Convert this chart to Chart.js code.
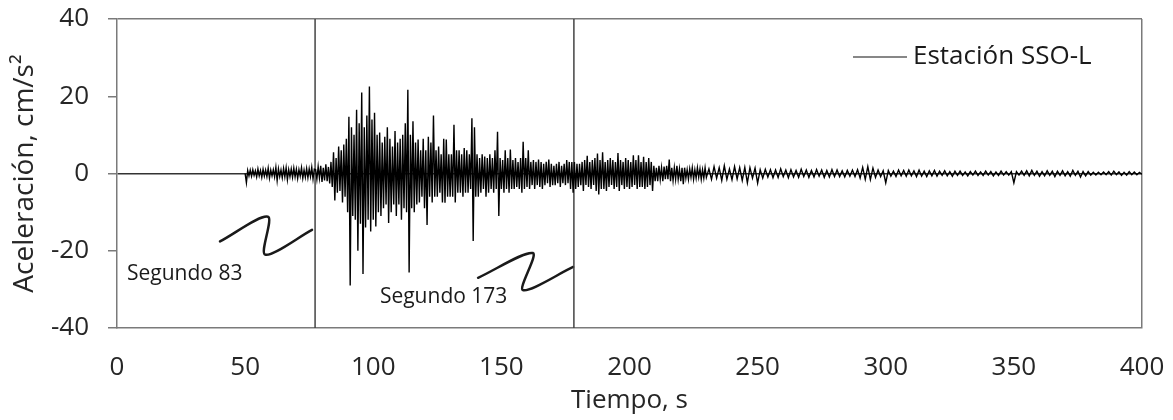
<!DOCTYPE html>
<html>
<head>
<meta charset="utf-8">
<script src="https://cdn.jsdelivr.net/npm/chart.js@4.4.0/dist/chart.umd.min.js"></script>
<style>
  body { margin: 0; background: #fff; }
  #wrap { width: 1173px; height: 420px; }
</style>
</head>
<body>
<div id="wrap"><canvas id="myChart"></canvas></div>
<script>
// acceleration record, cm/s2 in pieces
// each piece: [start s, end s] and samples evenly spread in between
const preSpan = [50, 77]
const accPre = [0, -2.4, 0.8, -0.6, 0.9, -0.7, 1.0, -0.5, 0.7, -0.9, 1.2, -0.6, 0.8, -1.0, 1.1, -0.7,
  0.9, -0.8, 1.4, -1.2, 0.9, -0.6, 1.0, -0.9, 1.6, -1.8, 1.2, -0.8, 0.9, -1.1, 1.3, -0.9, 1.5, -1.6,
  1.0, -0.8, 1.2, -1.0, 1.4, -0.9, 1.1, -1.3, 1.0, -0.7, 1.5, -1.2, 0.9, -1.0, 1.3, -1.1, 1.2, -0.8,
  1.6, -1.4, 1.1]

const strongSpan = [77.5, 130]
const accStrong = [1.0, -1.5, 1.8, -1.2, 2.0, -2.2, 1.5, -1.8, 2.4, -2.0, 1.7, -2.6, 3.0, -3.5,
  5.5, -7.0, 4.0, -5.0, 7.0, -4.5, 6.0, -7.5, 7.5, -6.0, 9.0, -10.0, 14.7, -29.0, 12.0, -11.0,
  10.0, -12.0, 16.5, -20.0, 13.0, -13.0, 21.0, -26.0, 12.0, -14.0, 15.0, -12.0, 22.5, -15.0,
  14.0, -12.0, 15.7, -13.7, 10.0, -10.0, 10.6, -11.0, 8.0, -9.0, 9.5, -8.0, 12.0, -12.8, 9.0,
  -10.0, 7.0, -8.0, 11.0, -11.0, 8.0, -8.0, 9.0, -12.0, 10.0, -9.0, 13.0, -10.0, 21.7, -25.6,
  10.0, -9.0, 13.5, -10.0, 8.0, -8.0, 8.8, -7.5, 6.0, -6.0, 9.0, -9.0, 6.0, -13.3, 9.5, -6.0,
  8.0, -7.5, 15.0, -6.0, 6.0, -6.0, 7.0, -5.0, 5.0, -7.5, 9.0, -7.6, 8.8, -6.0, 5.0, -6.0]

const middleSpan = [130.5, 180]
const accMiddle = [5.0, -6.0, 12.6, -7.5, 6.0, -5.0, 6.0, -5.0, 5.0, -6.0, 6.6, -5.0, 6.0, -5.0,
  5.0, -4.0, 14.3, -17.5, 12.0, -6.0, 5.0, -6.0, 4.0, -5.0, 5.0, -4.0, 4.4, -6.0, 4.0, -5.0,
  5.0, -4.0, 4.0, -5.0, 6.0, -4.0, 10.8, -11.0, 4.0, -4.0, 3.5, -5.0, 6.0, -4.0, 4.0, -5.0,
  6.2, -4.0, 3.5, -4.0, 4.0, -3.5, 3.0, -4.0, 4.0, -5.0, 8.2, -4.0, 4.0, -3.5, 6.0, -4.0, 3.0,
  -3.0, 3.5, -4.0, 3.0, -3.0, 3.6, -3.5, 3.0, -4.0, 2.5, -3.0, 3.0, -2.5, 3.6, -3.5, 2.5, -3.0,
  2.0, -3.0, 2.5, -2.5, 3.0, -3.5, 2.0, -2.5, 2.5, -3.0, 3.5, -2.5, 3.0, -4.0, 3.0, -5.0, 3.0,
  -4.0, 2.5, -3.5]

const codaSpan = [180.5, 230]
const accCoda = [2.5, -3.0, 3.0, -4.5, 3.5, -3.0, 4.6, -3.5, 3.0, -4.0, 3.5, -3.0, 4.0, -4.5,
  5.2, -5.4, 3.5, -4.0, 5.5, -4.0, 3.0, -4.5, 3.5, -3.5, 4.0, -3.0, 3.5, -4.0, 3.0, -3.5, 5.3,
  -4.5, 3.5, -3.0, 3.0, -4.0, 4.0, -3.5, 3.5, -4.0, 3.0, -3.5, 4.7, -3.0, 3.5, -4.0, 4.7, -3.5,
  3.0, -3.5, 4.3, -4.0, 3.0, -3.5, 4.0, -3.0, 3.0, -4.5, 2.0, -2.0, 1.5, -2.0, 2.0, -1.5, 1.5,
  -2.0, 1.8, -1.5, 2.0, -1.5, 3.6, -2.0, 1.5, -1.8, 1.5, -1.5, 2.0, -1.5, 1.2, -2.0, 1.5, -2.8,
  1.5, -1.2, 1.0, -1.5, 1.2, -1.0, 1.5, -1.5, 1.0, -1.2, 1.5, -1.0, 1.2, -1.5, 1.0, -1.2, 1.5, -1.0]

const tailSpan = [231, 400]
const accTail = [1.2, -1.5, 1.8, -1.2, 1.5, -1.8, 2.0, -1.5, 1.2, -1.6, 1.8, -1.4, 1.5, -1.8,
  1.6, -2.4, 1.5, -1.2, 1.4, -2.5, 1.0, -1.2, 1.1, -0.9, 1.0, -1.1, 0.9, -1.0, 1.2, -0.8, 0.9,
  -1.1, 1.0, -0.9, 0.8, -1.0, 1.1, -0.8, 0.9, -1.0, 0.8, -0.9, 1.0, -0.7, 0.9, -1.0, 0.8, -0.9,
  1.0, -0.8, 0.9, -0.8, 0.7, -0.9, 0.8, -0.7, 0.9, -0.8, 1.0, -1.2, 1.6, -1.5, 1.8, -1.6, 1.4,
  -1.0, 0.9, -0.8, 0.7, -2.4, 0.8, -0.7, 0.6, -0.8, 0.9, -0.6, 0.8, -0.7, 0.9, -0.6, 0.7, -0.8,
  0.9, -0.7, 0.6, -0.8, 0.7, -0.6, 0.8, -0.7, 0.6, -0.5, 0.7, -0.6, 0.5, -0.7, 0.6, -0.5, 0.6,
  -0.5, 0.4, -0.6, 0.5, -0.4, 0.6, -0.5, 0.4, -0.5, 0.6, -0.4, 0.5, -0.6, 0.4, -0.5, 0.6, -0.4,
  0.5, -0.4, 0.5, -2.4, 0.5, -0.4, 0.6, -0.5, 0.7, -0.6, 0.8, -0.5, 0.6, -0.7, 0.5, -0.6, 0.7,
  -0.5, 0.6, -0.8, 0.6, -0.5, 0.7, -0.6, 0.5, -0.7, 0.8, -0.5, 0.6, -0.9, 0.5, -0.6, 0.5, -0.4,
  0.3, -0.4, 0.3, -0.3, 0.4, -0.3, 0.5, -0.4, 0.6, -0.3, 0.4, -0.5, 0.3, -0.4, 0.5, -0.3, 0.4,
  -0.3, 0.3, -0.2]

// the two marker lines (s) and the little Z-shaped pointers (s, cm/s2)
const markTimes = [77.3, 178.3]
const zigzag1 = [[40.2, -17.6], [58.9, -11.2], [57.8, -21.0], [76.1, -14.6]]
const zigzag2 = [[140.9, -27.0], [162.3, -20.6], [158.4, -30.2], [178.0, -24.2]]
const notes = [
  { text: 'Segundo 83', x: 3.9, y: -26 },
  { text: 'Segundo 173', x: 102.6, y: -32 }
]

const xTicks = [0, 50, 100, 150, 200, 250, 300, 350, 400]
const yTicks = [-40, -20, 0, 20, 40]

const piece = (span, vals) => vals.map((v, i) => ({
  x: span[0] + (span[1] - span[0]) * i / (vals.length - 1),
  y: v
}))

const signal = [].concat(
  piece(preSpan, accPre),
  piece(strongSpan, accStrong),
  piece(middleSpan, accMiddle),
  piece(codaSpan, accCoda),
  piece(tailSpan, accTail)
)

const fontName = "'Open Sans', sans-serif"
const txtColor = '#262626'
const frameColor = '#7a7a7a'

const notesPlugin = {
  id: 'notes',
  afterDatasetsDraw(chart) {
    const { ctx, scales, chartArea } = chart
    ctx.save()
    ctx.fillStyle = '#1a1a1a'
    ctx.font = "21px " + fontName
    ctx.textBaseline = 'middle'
    ctx.textAlign = 'left'
    notes.forEach(n => {
      ctx.fillText(n.text, scales.x.getPixelForValue(n.x), scales.y.getPixelForValue(n.y))
    })
    // legend, top right inside the frame
    const ly = chartArea.top + 38
    ctx.strokeStyle = '#111'
    ctx.lineWidth = 1.2
    ctx.beginPath()
    ctx.moveTo(chartArea.right - 289, ly)
    ctx.lineTo(chartArea.right - 235, ly)
    ctx.stroke()
    ctx.fillStyle = '#1a1a1a'
    ctx.font = "26px " + fontName
    ctx.fillText('Estación SSO-L', chartArea.right - 229, ly)
    ctx.restore()
  }
}

const chart = document.getElementById('myChart')

new Chart(chart, {
  type: 'line',
  data: {
    datasets: [
      {
        label: 'Estación SSO-L',
        data: signal,
        borderColor: '#000',
        borderWidth: 1.4,
        pointRadius: 0,
        tension: 0
      },
      ...markTimes.map(t => ({
        data: [{ x: t, y: -40 }, { x: t, y: 40 }],
        borderColor: '#444',
        borderWidth: 1.5,
        pointRadius: 0
      })),
      ...[zigzag1, zigzag2].map(z => ({
        data: z.map(p => ({ x: p[0], y: p[1] })),
        borderColor: '#1a1a1a',
        borderWidth: 2.5,
        borderJoinStyle: 'round',
        borderCapStyle: 'round',
        tension: 0.3,
        pointRadius: 0
      }))
    ]
  },
  options: {
    responsive: true,
    maintainAspectRatio: false,
    animation: false,
    layout: { padding: { top: 19, right: 31, left: 0, bottom: 0 } },
    plugins: {
      legend: { display: false },
      tooltip: { enabled: false }
    },
    scales: {
      x: {
        type: 'linear',
        min: 0,
        max: 400,
        afterBuildTicks: axis => { axis.ticks = xTicks.map(v => ({ value: v })) },
        afterFit: axis => {
          axis.height = 92
          axis.paddingLeft = 0
          axis.paddingRight = 0
        },
        grid: {
          color: c => c.tick && c.tick.value === 400 ? frameColor : 'rgba(0,0,0,0)',
          lineWidth: 1.5,
          drawTicks: false
        },
        border: { color: frameColor, width: 1.5 },
        ticks: {
          color: txtColor,
          font: { family: fontName, size: 26 },
          padding: 24,
          maxRotation: 0
        },
        title: {
          display: true,
          text: 'Tiempo, s',
          color: txtColor,
          font: { family: fontName, size: 26 },
          padding: { top: 0, bottom: 4 }
        }
      },
      y: {
        min: -40,
        max: 40,
        afterBuildTicks: axis => { axis.ticks = yTicks.map(v => ({ value: v })) },
        afterFit: axis => {
          axis.width = 117
          axis.paddingTop = 0
          axis.paddingBottom = 0
        },
        grid: {
          color: c => {
            if (!c.tick) return 'rgba(0,0,0,0)'
            if (c.tick.value === 0) return '#333'
            if (c.tick.value === 40) return frameColor
            return 'rgba(0,0,0,0)'
          },
          tickColor: frameColor,
          tickLength: 9,
          lineWidth: 1.5
        },
        border: { color: frameColor, width: 1.5 },
        ticks: {
          color: txtColor,
          font: { family: fontName, size: 26 },
          padding: 19
        },
        title: {
          display: true,
          text: 'Aceleración, cm/s²',
          color: txtColor,
          font: { family: fontName, size: 28 },
          padding: { top: 8, bottom: 0 }
        }
      }
    }
  },
  plugins: [notesPlugin]
})
</script>
</body>
</html>
